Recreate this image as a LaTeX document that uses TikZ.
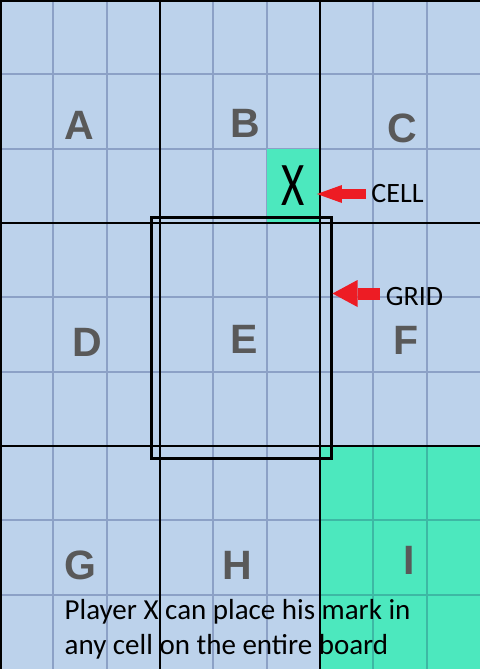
\documentclass[tikz,border=0pt]{standalone}
\usepackage{fontspec}
\usepackage{tikz}
\usetikzlibrary{arrows.meta,positioning,calc}
\newfontfamily\letterfont{Liberation Sans}
\newfontfamily\notefont{Carlito}
\definecolor{boardblue}{HTML}{BCD2EB}
\definecolor{boardgreen}{HTML}{4CE8BE}
\definecolor{lineblue}{HTML}{8CA1C6}
\definecolor{linegreen}{HTML}{3DB8A4}
\definecolor{lettergray}{HTML}{595959}
\definecolor{arrowred}{HTML}{ED1C24}
\begin{document}
\begin{tikzpicture}[x=1pt,y=-1pt,
  thinln/.style={draw=lineblue,line width=1.8pt},
  thickln/.style={draw=black,line width=2pt},
  sub/.style={font=\letterfont\bfseries\fontsize{41}{41}\selectfont,text=lettergray,inner sep=0pt},
  lbl/.style={font=\notefont\fontsize{28}{28}\selectfont,inner sep=0pt},
  note/.style={font=\notefont\fontsize{29}{35}\selectfont,inner sep=0pt},
  xcell/.style={fill=boardgreen,minimum width=53.3pt,minimum height=74.3pt,inner sep=0pt,outer sep=0pt,font=\notefont\fontsize{62}{62}\selectfont},
  cellarr/.style={draw=arrowred,line width=10pt,-{Triangle[length=25pt,width=18pt,line width=0pt]}},
  gridarr/.style={draw=arrowred,line width=12pt,-{Triangle[length=25pt,width=27pt,line width=0pt]}}]
  \useasboundingbox (0,0) rectangle (480,669);
  \fill[boardblue] (0,0) rectangle (480,669);
  \fill[boardgreen] (320,446) rectangle (480,669);
  % small cells
  \draw[thinln] (53.3,0)--(53.3,669) (106.7,0)--(106.7,669) (213.3,0)--(213.3,669) (266.7,0)--(266.7,669) (373.3,0)--(373.3,669) (426.7,0)--(426.7,669);
  \draw[thinln] (0,74.3)--(480,74.3) (0,148.7)--(480,148.7) (0,297.3)--(480,297.3) (0,371.7)--(480,371.7) (0,520.3)--(480,520.3) (0,594.7)--(480,594.7);
  \begin{scope}
    \clip (320,446) rectangle (480,669);
    \draw[thinln,draw=linegreen] (373.3,446)--(373.3,669) (426.7,446)--(426.7,669) (320,520.3)--(480,520.3) (320,594.7)--(480,594.7);
  \end{scope}
  \node[xcell](xc) at (293.3,185.8){\scalebox{0.72}[1]{X}};
  % big grids
  \draw[thickln] (160,0)--(160,669) (320,0)--(320,669) (0,223)--(480,223) (0,446)--(480,446) (1,669)--(1,1)--(480,1);
  \node[draw,line width=3pt,minimum width=180pt,minimum height=241pt,inner sep=0pt](gridbox) at (241,338.3){};
  \node[sub](la) at (79,125){A};
  \node[sub](lb) at (245,123){B};
  \node[sub](lc) at (402,128.5){C};
  \node[sub](ld) at (87,342.5){D};
  \node[sub](le) at (244,339){E};
  \node[sub](lf) at (406,340.5){F};
  \node[sub](lg) at (80,565){G};
  \node[sub](lh) at (237,565){H};
  \node[sub](li) at (409,560.5){I};
  \node[lbl](cl) at (397.5,194){CELL};
  \node[lbl](gl) at (414.5,297){GRID};
  \draw[cellarr,shorten <=5pt]($(cl.west)$)--([xshift=-3pt]cl.west -| xc.east);
  \draw[gridarr,shorten <=6pt]([yshift=3.5pt]gl.west)--([yshift=3.5pt]gl.west -| gridbox.east);
  \node[note,anchor=north west,align=left](nt) at (64.5,599){Player X can place his mark in\\any cell on the entire board};
\end{tikzpicture}
\end{document}
